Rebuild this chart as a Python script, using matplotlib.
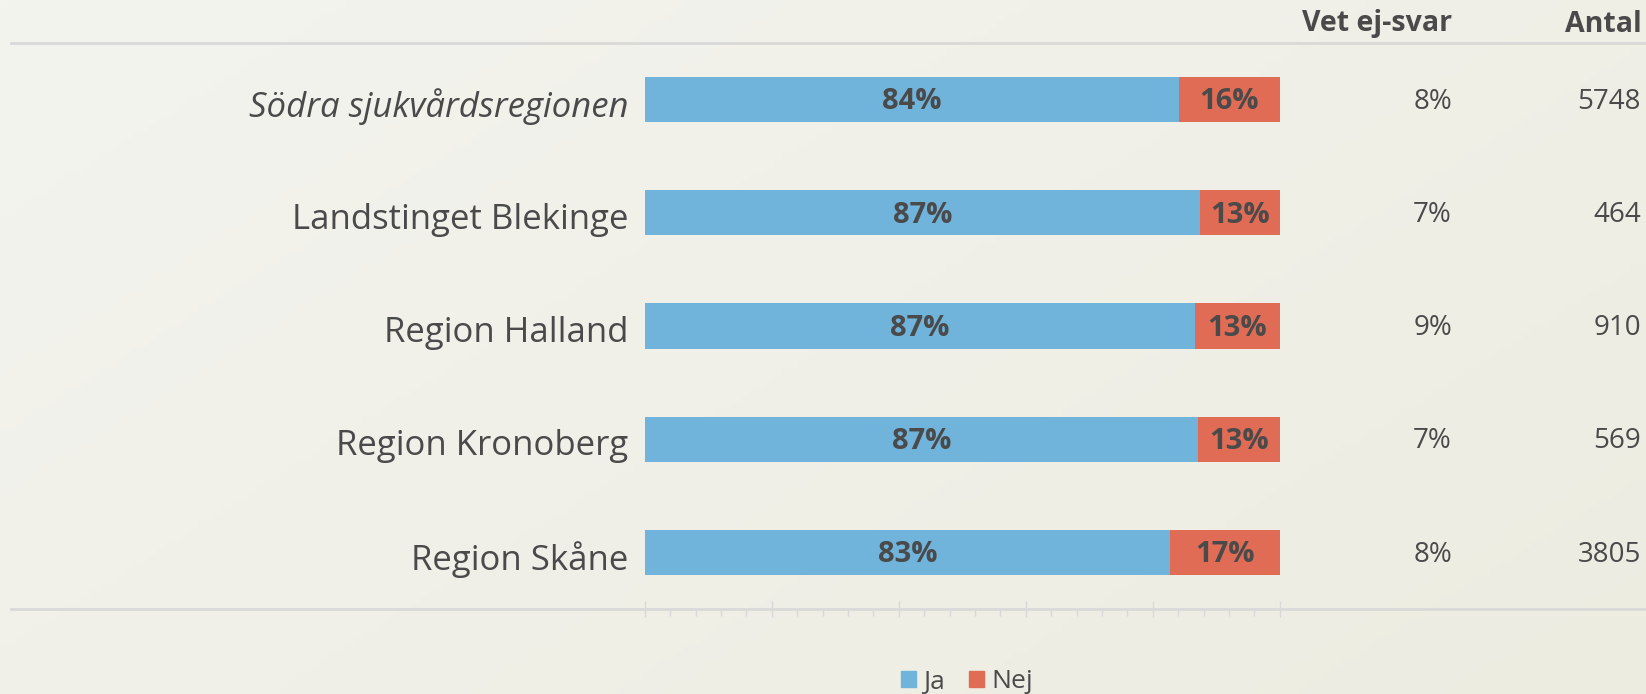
import numpy as np
import matplotlib.pyplot as plt
from matplotlib.lines import Line2D
from matplotlib.patches import Patch
import matplotlib.transforms as mtransforms

plt.rcParams['font.family'] = ['Open Sans', 'DejaVu Sans']

# data
regions = ["Södra sjukvårdsregionen", "Landstinget Blekinge", "Region Halland",
           "Region Kronoberg", "Region Skåne"]
ja = [84.1, 87.4, 86.6, 87.1, 82.8]
nej = [15.9, 12.6, 13.4, 12.9, 17.2]
vet_ej = ["8%", "7%", "9%", "7%", "8%"]
antal = [5748, 464, 910, 569, 3805]

blue = '#70B4DB'
red = '#E06C55'
txt = '#4A4A4A'
W, H = 1646, 694

fig = plt.figure(figsize=(W / 100, H / 100), dpi=100)

# soft gradient background
bg = fig.add_axes([0, 0, 1, 1], zorder=-10)
gx, gy = np.meshgrid(np.linspace(0, 1, 200), np.linspace(0, 1, 100))
grad = 0.6 * gx + 0.4 * gy
c0 = np.array([0xF4, 0xF4, 0xEF]) / 255
c1 = np.array([0xEC, 0xEC, 0xE1]) / 255
img = c0[None, None, :] * (1 - grad[..., None]) + c1[None, None, :] * grad[..., None]
bg.imshow(img, aspect='auto', extent=[0, 1, 0, 1], origin='upper')
bg.axis('off')

ax = fig.add_axes([644.7 / W, (H - 609) / H, 635 / W, 566 / H])
ax.set_facecolor('none')
y = np.arange(len(regions))
ax.barh(y, ja, height=0.4, color=blue, label='Ja')
ax.barh(y, nej, left=ja, height=0.4, color=red, label='Nej')

for i in range(len(regions)):
    ax.text(ja[i] / 2, y[i] + 0.02, f"{round(ja[i])}%", ha='center', va='center',
            fontsize=21, fontweight='bold', color=txt)
    ax.text(ja[i] + nej[i] / 2, y[i] + 0.02, f"{round(nej[i])}%", ha='center', va='center',
            fontsize=21, fontweight='bold', color=txt)

ax.set_xlim(0, 100)
ax.set_ylim(4.5, -0.5)
ax.set_yticks(y + 0.025)
ax.set_yticklabels(regions, fontsize=25, color=txt)
ax.get_yticklabels()[0].set_style('italic')
ax.tick_params(axis='y', length=0, pad=12)
ax.set_xticks(np.arange(0, 101, 20))
ax.set_xticks(np.arange(0, 101, 4), minor=True)
ax.set_xticklabels([])
ax.tick_params(axis='x', which='major', direction='inout', length=12, color='#D9D9D9', width=1)
ax.tick_params(axis='x', which='minor', direction='out', length=5, color='#D9D9D9', width=1)
for s in ax.spines.values():
    s.set_visible(False)

# horizontal rules
for yy in [43, 609]:
    fig.add_artist(Line2D([10.5 / W, 1], [(H - yy) / H] * 2, color='#D9D9D9', lw=2,
                          transform=fig.transFigure))

# right-side columns
trans = mtransforms.blended_transform_factory(fig.transFigure, ax.transData)
fig.text(1452 / W, (H - 24) / H, "Vet ej-svar", ha='right', va='center',
         fontsize=20.5, fontweight='bold', color=txt)
fig.text(1642 / W, (H - 24) / H, "Antal", ha='right', va='center',
         fontsize=20.5, fontweight='bold', color=txt)
for i in range(len(regions)):
    ax.text(1452 / W, y[i] + 0.02, vet_ej[i], ha='right', va='center', fontsize=20,
            color=txt, transform=trans)
    ax.text(1641 / W, y[i] + 0.02, str(antal[i]), ha='right', va='center', fontsize=20,
            color=txt, transform=trans)

handles = [Patch(color=blue, label='Ja'), Patch(color=red, label='Nej')]
fig.legend(handles=handles, loc='center', bbox_to_anchor=(967 / W, (H - 682) / H),
           ncol=2, frameon=False, fontsize=19, handlelength=0.56, handleheight=0.56,
           handletextpad=0.3, columnspacing=0.9, labelcolor=txt, borderpad=0)

fig.savefig('out.png', dpi=100)
